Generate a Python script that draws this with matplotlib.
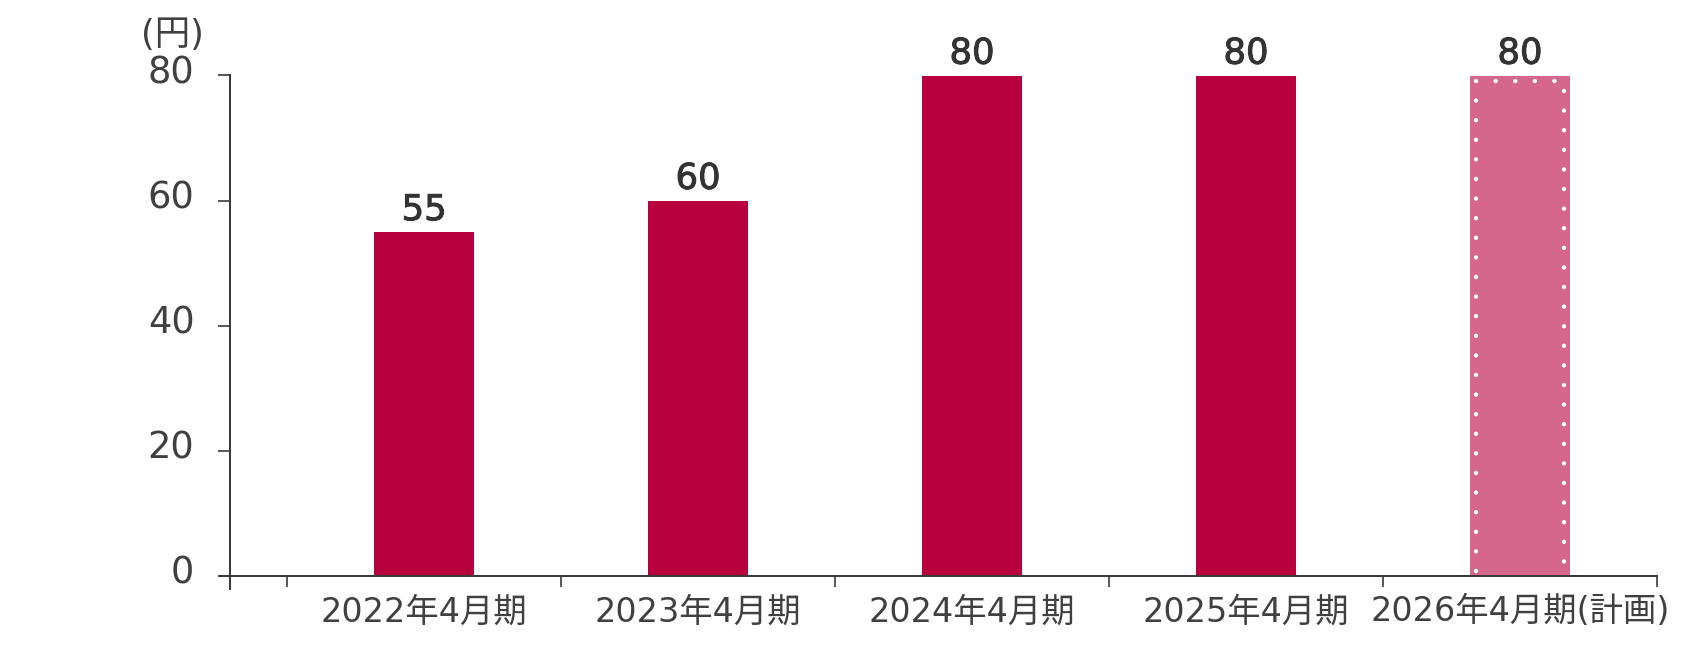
import matplotlib
matplotlib.use("Agg")
import matplotlib.pyplot as plt
import matplotlib.patheffects as pe
from matplotlib.transforms import ScaledTranslation

categories = ["2022年4月期", "2023年4月期", "2024年4月期", "2025年4月期", "2026年4月期(計画)"]
values = [55, 60, 80, 80, 80]
is_plan = [False, False, False, False, True]
yticks = [0, 20, 40, 60, 80]
unit_label = "(円)"

plt.rcParams['font.family'] = ['DejaVu Sans', 'Noto Sans CJK JP']

W, H, DPI = 1700, 657, 100
fig = plt.figure(figsize=(W / DPI, H / DPI), dpi=DPI)
ax = fig.add_axes([220 / W, 1 - 589 / H, (1657 - 220) / W, (589 - 75.5) / H])

TEXT = "#404043"
AX = "#3a3a3c"
BAR = "#B9003F"
PLAN = "#D5668C"
bar_w = 0.365

x = list(range(len(categories)))
colors = [PLAN if p else BAR for p in is_plan]
bars = ax.bar(x, values, width=bar_w, color=colors, zorder=2, linewidth=0)

# dotted white inner border for plan bar
for b, p in zip(bars, is_plan):
    if not p:
        continue
    ix = 6 / 274.0
    iy = 5.5 / 6.256
    x0 = b.get_x() + ix
    x1 = b.get_x() + b.get_width() - ix
    top = b.get_height() - iy
    ax.plot([x0, x0, x1, x1], [0.8, top, top, 0.8], color="white", lw=3.2,
            ls=(0, (0.01, 4.4)), dash_capstyle="round", zorder=3, clip_on=False)

for xi, v in zip(x, values):
    ax.annotate(f"{v}", (xi, v), xytext=(0, 8.5), textcoords="offset points",
                ha="center", va="baseline", fontsize=25.5, fontweight="normal",
                color="#333336",
                path_effects=[pe.withStroke(linewidth=0.7, foreground="#333336")])

ax.set_xlim(-0.745, len(categories) - 0.5)
ax.set_ylim(-2.08, 80)

for s in ["top", "right"]:
    ax.spines[s].set_visible(False)
ax.spines["left"].set_position(("data", -0.708))
ax.spines["bottom"].set_position(("data", 0))
for s in ["left", "bottom"]:
    ax.spines[s].set_color(AX)
    ax.spines[s].set_linewidth(1.45)

ax.set_yticks(yticks)
ax.set_yticklabels([str(t) for t in yticks])
ax.tick_params(axis="y", direction="out", length=8.5, width=1.2, color=AX,
               pad=17.2, labelsize=26.5, labelcolor=TEXT)
for lab in ax.get_yticklabels():
    lab.set_transform(lab.get_transform() + ScaledTranslation(0, 7 / DPI, fig.dpi_scale_trans))

ax.set_xticks(x)
ax.set_xticklabels(categories)
ax.set_xticks([i - 0.5 for i in range(len(categories) + 1)], minor=True)
ax.tick_params(axis="x", which="major", length=0, pad=14, labelsize=24, labelcolor=TEXT)
ax.tick_params(axis="x", which="minor", direction="out", length=8, width=1.2, color=AX)

fig.text(172 / W, 1 - 35 / H, unit_label, ha="center", va="center", fontsize=25.5,
         color=TEXT)

fig.savefig("out.png", dpi=DPI)
